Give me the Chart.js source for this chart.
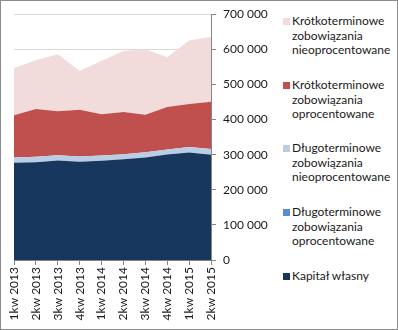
<!DOCTYPE html>
<html>
<head>
<meta charset="utf-8">
<script src="https://cdn.jsdelivr.net/npm/chart.js@4/dist/chart.umd.min.js"></script>
<style>
  body { margin: 0; background: #fff; }
  #frame { position: relative; width: 398px; height: 330px; outline: 1px solid #8c8c8c; outline-offset: -1px; font-family: Lato, sans-serif; }
  #chart { position: absolute; left: 0; top: 0; }
  #legend { position: absolute; left: 283px; top: 0; margin: 0; padding: 0; list-style: none; font-size: 12px; color: #1a1a1a; }
  #legend li { position: absolute; left: 0; width: 110px; line-height: 14.5px; padding-left: 9px; white-space: nowrap; }
  #legend span.box { position: absolute; left: 0; top: 4px; width: 7px; height: 7px; }
</style>
</head>
<body>
<div id="frame">
  <canvas id="chart" width="281" height="330"></canvas>
  <ul id="legend"></ul>
</div>
<script>
// Quarters on the x axis
const quarters = ['1kw 2013', '2kw 2013', '3kw 2013', '4kw 2013', '1kw 2014',
                  '2kw 2014', '3kw 2014', '4kw 2014', '1kw 2015', '2kw 2015'];

// Series values
const kapitalWlasny     = [276800, 278700, 283400, 279600, 282500, 287200, 292000, 300500, 306300, 299600];
const dlugoOprocent     = [0, 0, 0, 0, 0, 0, 0, 0, 0, 0];
const dlugoNieoprocent  = [15200, 15200, 15200, 15200, 15200, 14300, 15200, 14300, 15200, 16200];
const krotkoOprocent    = [120000, 136000, 124800, 133400, 117200, 119800, 106500, 120800, 122700, 135000];
const krotkoNieoprocent = [135100, 138900, 162700, 110300, 152200, 174100, 186400, 141700, 180700, 184500];

// Y axis ticks
const yTicks = [0, 100000, 200000, 300000, 400000, 500000, 600000, 700000];

const series = [
  { label: 'Kapitał własny', data: kapitalWlasny, color: '#17375e' },
  { label: 'Długoterminowe zobowiązania oprocentowane', data: dlugoOprocent, color: '#558ed5' },
  { label: 'Długoterminowe zobowiązania nieoprocentowane', data: dlugoNieoprocent, color: '#b9cde5' },
  { label: 'Krótkoterminowe zobowiązania oprocentowane', data: krotkoOprocent, color: '#c0504d' },
  { label: 'Krótkoterminowe zobowiązania nieoprocentowane', data: krotkoNieoprocent, color: '#f2dcdb' }
];

function fmt(v) {
  return String(v).replace(/\B(?=(\d{3})+(?!\d))/g, ' ');
}

const ctx = document.getElementById('chart').getContext('2d');
const chart = new Chart(ctx, {
  type: 'line',
  data: {
    labels: quarters,
    datasets: series.map((s, i) => ({
      label: s.label,
      data: s.data,
      backgroundColor: s.color,
      borderWidth: 0,
      pointRadius: 0,
      tension: 0,
      fill: i === 0 ? 'origin' : '-1'
    }))
  },
  options: {
    responsive: false,
    animation: false,
    devicePixelRatio: 1,
    layout: { padding: { left: 14, top: 14, right: 0, bottom: 0 } },
    plugins: { legend: { display: false }, tooltip: { enabled: false } },
    scales: {
      x: {
        stacked: true,
        grid: { drawOnChartArea: false, drawTicks: true, tickLength: 5, color: '#868686' },
        border: { color: '#868686' },
        ticks: { minRotation: 90, maxRotation: 90, autoSkip: false, color: '#1a1a1a', padding: 2,
                 font: { family: 'Lato', size: 12 } },
        afterFit(scale) { scale.height = 70; }
      },
      y: {
        position: 'right',
        stacked: true,
        min: 0,
        max: 700000,
        afterBuildTicks(scale) { scale.ticks = yTicks.map(v => ({ value: v })); },
        grid: { color: '#d9d9d9', tickLength: 5, tickColor: '#868686' },
        border: { color: '#868686' },
        ticks: { color: '#1a1a1a', padding: 7, callback: v => fmt(v),
                 font: { family: 'Lato', size: 12 } },
        afterFit(scale) { scale.width = 70; }
      }
    }
  }
});

// HTML legend, top to bottom in reverse stacking order
const legendTops = [14, 78, 141, 205, 269];
const legend = document.getElementById('legend');
chart.data.datasets.slice().reverse().forEach((ds, i) => {
  const li = document.createElement('li');
  li.style.top = legendTops[i] + 'px';
  const box = document.createElement('span');
  box.className = 'box';
  box.style.background = ds.backgroundColor;
  li.appendChild(box);
  // long labels wrap one word per line, short ones stay on one line
  const words = ds.label.split(' ');
  const lines = words.length > 2 ? words : [ds.label];
  lines.forEach((line, k) => {
    if (k > 0) li.appendChild(document.createElement('br'));
    li.appendChild(document.createTextNode(line));
  });
  legend.appendChild(li);
});
</script>
</body>
</html>
